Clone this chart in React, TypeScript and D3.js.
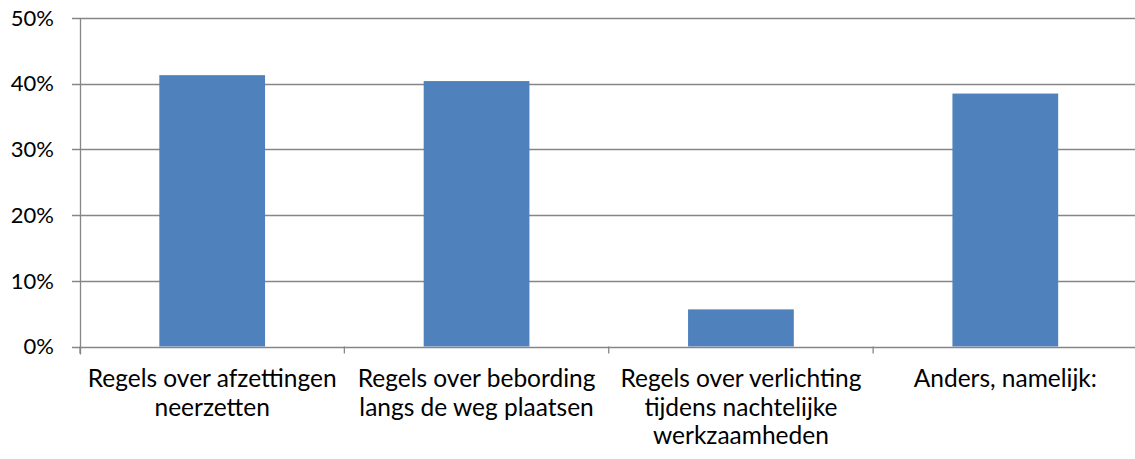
import React from "react";
import * as d3 from "d3";

const categories: string[][] = [
  ["Regels over afzettingen", "neerzetten"],
  ["Regels over bebording", "langs de weg plaatsen"],
  ["Regels over verlichting", "tijdens nachtelijke", "werkzaamheden"],
  ["Anders, namelijk:"],
];
const values: number[] = [0.413, 0.404, 0.0565, 0.385];
const yTicks: number[] = [0, 0.1, 0.2, 0.3, 0.4, 0.5];

const W = 1135;
const H = 459;
const left = 80;
const right = 1137.5;
const top = 18;
const bottom = 346.5;
const font = "Lato, 'Open Sans', sans-serif";

export default function App() {
  const x = d3.scaleBand<number>().domain(d3.range(values.length)).range([left, right]).paddingInner(0.6).paddingOuter(0.3);
  const band = (right - left) / values.length;
  const y = d3.scaleLinear().domain([0, 0.5]).range([bottom, top]);
  const fmt = d3.format(".0%");
  return (
    <svg width={W} height={H} style={{ position: "absolute", left: 0, top: 0, background: "#fff" }}>
      {yTicks.map((t) => (
        <g key={t}>
          <line x1={72} x2={W} y1={Math.round(y(t)) + 0.5} y2={Math.round(y(t)) + 0.5} stroke="#868686" strokeWidth={1.3} />
          <text x={54} y={y(t) + 7.7} textAnchor="end" fontFamily={font} fontSize={22} fill="#000">{fmt(t)}</text>
        </g>
      ))}
      <line x1={left + 0.5} x2={left + 0.5} y1={top} y2={bottom + 8} stroke="#868686" strokeWidth={1.3} />
      {d3.range(values.length + 1).map((i) => (
        <line key={i} x1={left + i * band} x2={left + i * band} y1={bottom} y2={bottom + 7} stroke="#868686" strokeWidth={1.3} />
      ))}
      {values.map((v, i) => (
        <rect key={i} x={x(i)} y={y(v)} width={x.bandwidth()} height={bottom - y(v)} fill="#4f81bd" />
      ))}
      {categories.map((lines, i) => (
        <text key={i} textAnchor="middle" fontFamily={font} fontSize={24.5} fill="#000">
          {lines.map((l, j) => (
            <tspan key={j} x={left + (i + 0.5) * band} y={387 + j * 28.5}>{l}</tspan>
          ))}
        </text>
      ))}
    </svg>
  );
}
